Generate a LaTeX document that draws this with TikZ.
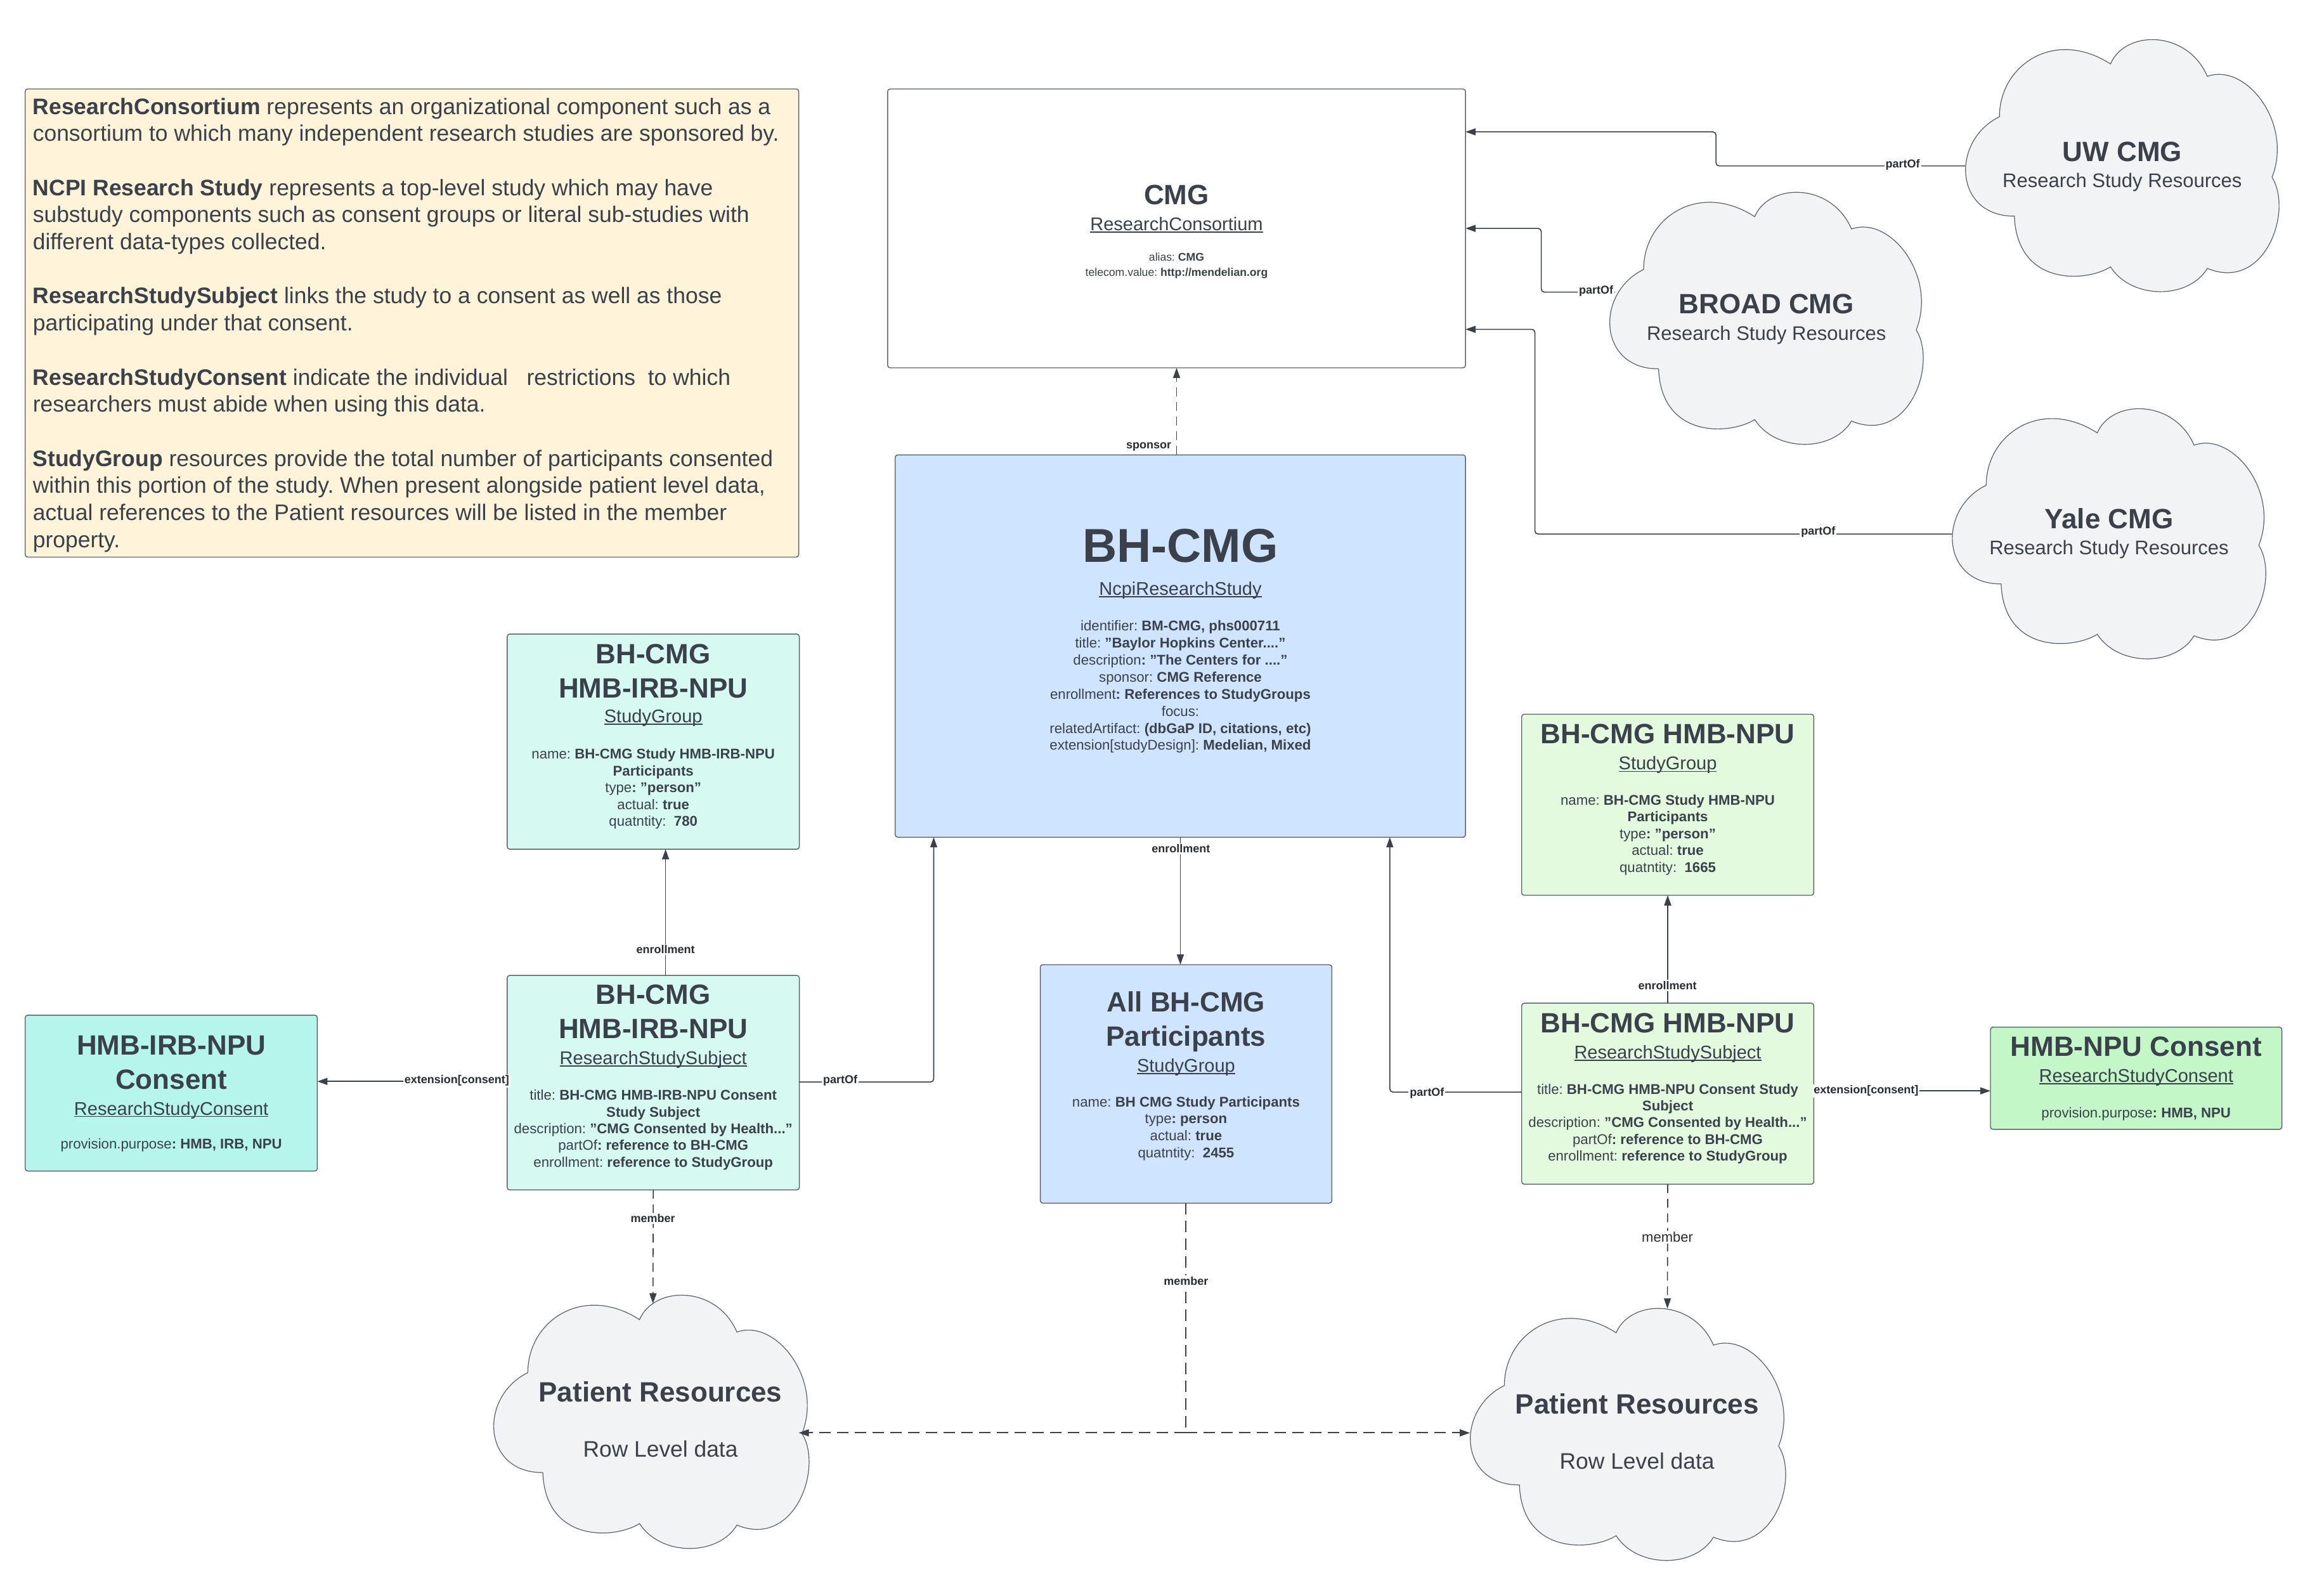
\documentclass[tikz,border=0pt]{standalone}
\usepackage{fontspec}
\setmainfont{Liberation Sans}
\usetikzlibrary{arrows.meta}
\definecolor{ink}{HTML}{3A414A}
\definecolor{labelink}{HTML}{282C33}
\definecolor{boxline}{HTML}{5A626C}
\definecolor{noteFill}{HTML}{FFF3D9}
\definecolor{blueFill}{HTML}{CFE4FF}
\definecolor{tealFill}{HTML}{D6F9F2}
\definecolor{tealDark}{HTML}{B6F5EC}
\definecolor{greenFill}{HTML}{E3FADF}
\definecolor{greenDark}{HTML}{C3F7C8}
\definecolor{cloudFill}{HTML}{F2F3F5}
\newlength\blkskip
\newsavebox\ulbox
\newcommand{\myul}[1]{\sbox\ulbox{#1}\rlap{\rule[-1.7pt]{\wd\ulbox}{0.7pt}}\usebox\ulbox}
\newcommand{\blk}[4]{\pgfmathsetlength{\blkskip}{(#1-\btop)*0.49745pt-#2pt}\nointerlineskip\vbox to 0pt{\vskip\blkskip\hsize=\bwd\centering\frenchspacing\fontsize{#2}{#3}\selectfont\leavevmode\rule{0pt}{#2pt}#4\par\vss}}
\newcommand{\pxbox}[7]{\pgfmathsetlengthmacro\bwd{(#5-#3)*0.49745pt}\pgfmathsetlengthmacro\bht{(#6-#4)*0.49745pt}\def\btop{#4}\node[boxbase,#2,minimum width=\bwd,minimum height=\bht] (#1) at ({(#3+#5)/2},{(#4+#6)/2}) {\vbox to \bht{\hsize=\bwd #7\vss}};}
\newcommand{\cloudat}[4]{\pgfmathsetmacro\cw{(#3-#1+5)*0.49745}\pgfmathsetmacro\ch{(#4-#2)*0.49745}
\begin{scope}[shift={(#1+2,#2)},x=\cw pt,y=-\ch pt]
\draw[cloudline] (0.104,0.305) .. controls (0.104,0.10) and (0.278,-0.047) .. (0.454,0.096)
 .. controls (0.50,-0.04) and (0.696,-0.04) .. (0.759,0.145)
 .. controls (0.88,0.09) and (1.03,0.33) .. (0.963,0.545)
 .. controls (1.03,0.68) and (0.94,1.0) .. (0.759,0.906)
 .. controls (0.70,1.03) and (0.52,1.03) .. (0.454,0.900)
 .. controls (0.38,0.96) and (0.16,0.98) .. (0.151,0.699)
 .. controls (-0.04,0.70) and (-0.05,0.40) .. (0.104,0.305) -- cycle;
\end{scope}}
\tikzset{
 boxbase/.style={draw=boxline,line width=0.7pt,rounded corners=2pt,inner sep=0pt,outer sep=0pt,text=ink,rectangle},
 plaincloud/.style={draw=none,fill=none},
 cloudline/.style={draw=boxline,line width=0.6pt,fill=cloudFill},
 conn/.style={draw=ink,line width=0.8pt,rounded corners=2.5pt,-{Triangle[length=8pt,width=5.5pt]}},
 plainline/.style={draw=ink,line width=0.8pt},
 dashline/.style={dash pattern=on 7pt off 4.5pt},
 heavydash/.style={line width=1pt,dash pattern=on 9pt off 5pt},
 elabel/.style={font=\fontsize{9}{11}\selectfont\bfseries,text=labelink,fill=white,inner sep=1pt},
}
\begin{document}
\begin{tikzpicture}[x=0.49745pt,y=-0.49745pt]
\useasboundingbox (0,0) rectangle (3683.79,2524.88);
\fill[white] (0,0) rectangle (3683.79,2524.88);

% Legend
\pxbox{note}{fill=noteFill}{40}{141}{1266}{883}{%
\blk{181}{17.74}{21.35}{\leftskip=6pt\textbf{ResearchConsortium} represents an organizational component such as a\\
consortium to which many independent research studies are sponsored by.\\[21.35pt]
\textbf{NCPI Research Study} represents a top-level study which may have\\
substudy components such as consent groups or literal sub-studies with\\
different data-types collected.\\[21.35pt]
\textbf{ResearchStudySubject} links the study to a consent as well as those\\
participating under that consent.\\[21.35pt]
\textbf{ResearchStudyConsent} indicate the individual\ \ \ restrictions\ \ to which\\
researchers must abide when using this data.\\[21.35pt]
\textbf{StudyGroup} resources provide the total number of participants consented\\
within this portion of the study. When present alongside patient level data,\\
actual references to the Patient resources will be listed in the member\\
property.}}

% Consortium
\pxbox{cmg}{fill=white}{1407}{141}{2323}{583}{%
\blk{324}{22}{27}{\textbf{CMG}}%
\blk{365}{14.5}{17}{\myul{ResearchConsortium}}%
\blk{414}{8.8}{11.75}{alias: \textbf{CMG}\\telecom.value: \textbf{http://mendelian.org}}}

% Study
\pxbox{bh}{fill=blueFill}{1419}{721}{2323}{1327}{%
\blk{891}{37.5}{45}{\textbf{BH-CMG}}%
\blk{943}{14.5}{17}{\myul{NcpiResearchStudy}}%
\blk{1000}{11.1}{13.43}{identifier: \textbf{BM-CMG, phs000711}\\
title: \textbf{"Baylor Hopkins Center...."}\\
description\textbf{: "The Centers for ...."}\\
sponsor: \textbf{CMG Reference}\\
enrollment\textbf{: References to StudyGroups}\\
focus:\\
relatedArtifact: \textbf{(dbGaP ID, citations, etc)}\\
extension[studyDesign]: \textbf{Medelian, Mixed}}}

% IRB column
\pxbox{sgirb}{fill=tealFill}{804}{1005}{1267}{1346}{%
\blk{1052}{22}{27}{\textbf{BH-CMG}\\\textbf{HMB-IRB-NPU}}%
\blk{1145}{14.5}{17}{\myul{StudyGroup}}%
\blk{1203}{11.1}{13.2}{name: \textbf{BH-CMG Study HMB-IRB-NPU}\\
\textbf{Participants}\\
type\textbf{: "person"}\\
actual: \textbf{true}\\
quatntity:\ \ \textbf{780}}}

\pxbox{subirb}{fill=tealFill}{804}{1546}{1267}{1886}{%
\blk{1592}{22}{27}{\textbf{BH-CMG}\\\textbf{HMB-IRB-NPU}}%
\blk{1687}{14.5}{17}{\myul{ResearchStudySubject}}%
\blk{1743.5}{11.1}{13.2}{title: \textbf{BH-CMG HMB-IRB-NPU Consent}\\
\textbf{Study Subject}\\
description: \textbf{"CMG Consented by Health..."}\\
partOf\textbf{: reference to BH-CMG}\\
enrollment: \textbf{reference to StudyGroup}}}

\pxbox{conirb}{fill=tealDark}{40}{1609}{503}{1856}{%
\blk{1672}{22}{27}{\textbf{HMB-IRB-NPU}\\\textbf{Consent}}%
\blk{1767}{14.5}{17}{\myul{ResearchStudyConsent}}%
\blk{1821}{11.1}{13.2}{provision.purpose\textbf{: HMB, IRB, NPU}}}

% All participants
\pxbox{allsg}{fill=blueFill}{1649}{1529}{2111}{1907}{%
\blk{1604}{22}{27}{\textbf{All BH-CMG}\\\textbf{Participants}}%
\blk{1699}{14.5}{17}{\myul{StudyGroup}}%
\blk{1754}{11.1}{13.4}{name: \textbf{BH CMG Study Participants}\\
type\textbf{: person}\\
actual: \textbf{true}\\
quatntity:\ \ \textbf{2455}}}

% NPU column
\pxbox{sgnpu}{fill=greenFill}{2412}{1132}{2875}{1419}{%
\blk{1179}{22}{27}{\textbf{BH-CMG HMB-NPU}}%
\blk{1220}{14.5}{17}{\myul{StudyGroup}}%
\blk{1276}{11.1}{13.2}{name: \textbf{BH-CMG Study HMB-NPU}\\
\textbf{Participants}\\
type\textbf{: "person"}\\
actual: \textbf{true}\\
quatntity:\ \ \textbf{1665}}}

\pxbox{subnpu}{fill=greenFill}{2412}{1590}{2875}{1877}{%
\blk{1637}{22}{27}{\textbf{BH-CMG HMB-NPU}}%
\blk{1678}{14.5}{17}{\myul{ResearchStudySubject}}%
\blk{1734}{11.1}{13.2}{title: \textbf{BH-CMG HMB-NPU Consent Study}\\
\textbf{Subject}\\
description: \textbf{"CMG Consented by Health..."}\\
partOf\textbf{: reference to BH-CMG}\\
enrollment: \textbf{reference to StudyGroup}}}

\pxbox{connpu}{fill=greenDark}{3155}{1628}{3617}{1790}{%
\blk{1674}{22}{27}{\textbf{HMB-NPU Consent}}%
\blk{1715}{14.5}{17}{\myul{ResearchStudyConsent}}%
\blk{1772}{11.1}{13.2}{provision.purpose\textbf{: HMB, NPU}}}

% Clouds
\cloudat{3115}{63}{3613}{463}
\pxbox{uw}{plaincloud}{3115}{63}{3613}{463}{%
\blk{256}{22}{27}{\textbf{UW CMG}}%
\blk{297}{15.5}{19}{Research Study Resources}}
\cloudat{2551}{305}{3049}{705}
\pxbox{broad}{plaincloud}{2551}{305}{3049}{705}{%
\blk{497.5}{22}{27}{\textbf{BROAD CMG}}%
\blk{539}{15.5}{19}{Research Study Resources}}
\cloudat{3094}{648}{3592}{1045}
\pxbox{yale}{plaincloud}{3094}{648}{3592}{1045}{%
\blk{838}{22}{27}{\textbf{Yale CMG}}%
\blk{879}{15.5}{19}{Research Study Resources}}
\cloudat{782}{2053}{1283}{2455}
\pxbox{prl}{plaincloud}{782}{2053}{1283}{2455}{%
\blk{2222}{22}{27}{\hspace*{14.3pt}\textbf{Patient Resources}}%
\blk{2309}{17.7}{21}{\hspace*{14.3pt}Row Level data}}
\cloudat{2330}{2074}{2831}{2474}
\pxbox{prr}{plaincloud}{2330}{2074}{2831}{2474}{%
\blk{2241}{22}{27}{\hspace*{14.3pt}\textbf{Patient Resources}}%
\blk{2328}{17.7}{21}{\hspace*{14.3pt}Row Level data}}

% Connector ends
\coordinate (cmgU) at (2323,209);
\coordinate (cmgB) at (2323,362);
\coordinate (cmgY) at (2323,522);
\coordinate (broadP) at (2560,463);
\coordinate (bhL) at (1480,1327);
\coordinate (bhR) at (2203,1327);
\coordinate (subirbE) at (1267,1715);
\coordinate (subnpuW) at (2412,1731);
\coordinate (prlTop) at (1035,2066);
\coordinate (prrTop) at (2643,2074);
\coordinate (prlNotch) at (1266,2271);
\coordinate (allJoin) at (1880,2271);
\coordinate (sgirbS) at (1055,1346);
\coordinate (subirbN) at (1055,1546);
\coordinate (conirbE) at (503,1714);
\coordinate (connpuW) at (3155,1729);

% Connectors
\draw[conn,dashline] (bh.north -| cmg.south) -- (cmg.south);
\draw[conn] (bh.south) -- (bh.south |- allsg.north);
\draw[conn] (uw.west) -- (2720,263) |- (cmgU);
\draw[conn] (broadP) -- (2443,463) |- (cmgB);
\draw[conn] (yale.west) -- (2433,846.5) |- (cmgY);
\draw[conn] (subirbE) -| (bhL);
\draw[conn] (subnpuW) -| (bhR);
\draw[conn] (subirbN) -- (sgirbS);
\draw[conn] (subnpu.north) -- (sgnpu.south);
\draw[conn] (subirb.west |- conirbE) -- (conirbE);
\draw[conn] (subnpu.east |- connpuW) -- (connpuW);
\draw[conn,dashline] (subirb.south) -- (prlTop);
\draw[conn,dashline] (subnpu.south) -- (prrTop);
\draw[plainline,heavydash] (allsg.south) -- (allJoin);
\draw[conn,heavydash] (allJoin) -- (prlNotch);
\draw[conn,heavydash] (allJoin) -- (allJoin -| prr.west);

% Connector labels
\node[elabel,fill=none] (lsponsor) at (1821,708) {sponsor};
\node[elabel] (lenrollbh) at (1872,1345) {enrollment};
\node[elabel] (lpartuw) at (3016,261) {partOf};
\node[elabel] (lpartbroad) at (2530,461) {partOf};
\node[elabel] (lpartyale) at (2882,843) {partOf};
\node[elabel] (lpartirb) at (1332,1713) {partOf};
\node[elabel] (lpartnpu) at (2262,1733) {partOf};
\node[elabel] (lenrollirb) at (1055,1505) {enrollment};
\node[elabel] (lenrollnpu) at (2643,1562) {enrollment};
\node[elabel] (lextirb) at (724,1713) {extension[consent]};
\node[elabel] (lextnpu) at (2958,1729) {extension[consent]};
\node[elabel] (lmemberirb) at (1035,1931) {member};
\node[elabel] (lmemberall) at (1880,2030) {member};
\node[elabel,font=\fontsize{11}{13}\selectfont] (lmembernpu) at (2643,1961) {member};
\end{tikzpicture}
\end{document}
